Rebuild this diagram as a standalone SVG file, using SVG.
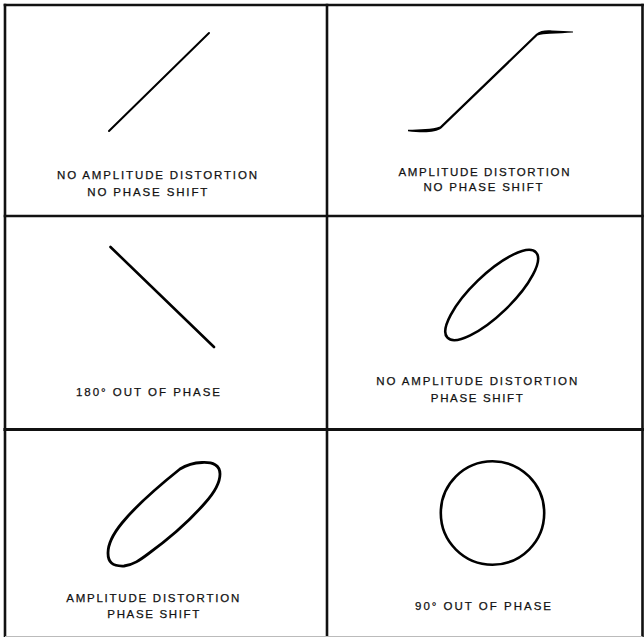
<svg xmlns="http://www.w3.org/2000/svg" width="644" height="637" viewBox="0 0 644 637">
<style>
.frame{stroke:#111;stroke-width:2.6;fill:none;stroke-linecap:square}
.trace{stroke:#000;fill:none;stroke-linecap:round;stroke-linejoin:round}
.lbl{font-family:"Liberation Sans",Arial,Helvetica,sans-serif;font-size:11.5px;fill:#111;stroke:#111;stroke-width:0.25;text-anchor:middle}
</style>
<rect width="644" height="637" fill="#fff"/>
<g id="grid">
<line class="frame" x1="5" y1="5" x2="642.5" y2="5"/>
<line class="frame" x1="5" y1="5" x2="5" y2="637"/>
<line class="frame" x1="642.5" y1="5" x2="642.5" y2="637"/>
<line class="frame" x1="327" y1="5" x2="327" y2="637"/>
<line class="frame" x1="5" y1="216" x2="642.5" y2="216"/>
<line class="frame" x1="5" y1="429.5" x2="642.5" y2="429.5" style="stroke-width:3.2"/>
<line x1="5" y1="636.5" x2="642.5" y2="636.5" stroke="#bbb" stroke-width="1"/>
</g>
<g id="connectors"></g>
<g id="cell1">
<line class="trace" x1="109" y1="131" x2="209" y2="33" stroke-width="2"/>
<text class="lbl" x="157" y="179" textLength="200" lengthAdjust="spacing">NO AMPLITUDE DISTORTION</text>
<text class="lbl" x="147.3" y="196" textLength="120" lengthAdjust="spacing">NO PHASE SHIFT</text>
</g>
<g id="cell2">
<path fill="#000" d="M408,129.8 C420,129.3 432,129.5 440,126.5 L536,34 C540,30.5 546,30 552,30.5 C560,31 567,31.3 573,31.5 L573,32.6 C566,33 558,33.5 550,33.8 C545,34 541,34.5 537.6,35.5 L441.5,128.3 C436,133 422,132.8 408,131.3 Z"/>
<text class="lbl" x="484" y="176" textLength="171" lengthAdjust="spacing">AMPLITUDE DISTORTION</text>
<text class="lbl" x="483" y="191" textLength="119" lengthAdjust="spacing">NO PHASE SHIFT</text>
</g>
<g id="cell3">
<line class="trace" x1="110.5" y1="247" x2="214" y2="347" stroke-width="2.6"/>
<text class="lbl" x="148" y="395.7" textLength="144" lengthAdjust="spacing">180° OUT OF PHASE</text>
</g>
<g id="cell4">
<ellipse class="trace" cx="491.7" cy="295" rx="61.5" ry="20" transform="rotate(-44 491.7 295)" stroke-width="2.6"/>
<text class="lbl" x="476.7" y="385" textLength="201" lengthAdjust="spacing">NO AMPLITUDE DISTORTION</text>
<text class="lbl" x="476.8" y="401.5" textLength="92" lengthAdjust="spacing">PHASE SHIFT</text>
</g>
<g id="cell5">
<path class="trace" stroke-width="2.8" d="M202,462.5 C213,462 220,465 220,474 C220,484 214,493 205,503 C192,518 170,538 148,554 C140,560 133,565 124,566 C112,566.5 108,562 108,553 C108,543 113,534 122,523 C135,507 160,485 180,469 C188,464 194,462.8 202,462.5 Z"/>
<text class="lbl" x="152.7" y="602.3" textLength="173" lengthAdjust="spacing">AMPLITUDE DISTORTION</text>
<text class="lbl" x="153.3" y="618.3" textLength="92" lengthAdjust="spacing">PHASE SHIFT</text>
</g>
<g id="cell6">
<circle class="trace" cx="492.5" cy="513" r="51.7" stroke-width="2.6"/>
<text class="lbl" x="483" y="610" textLength="136" lengthAdjust="spacing">90° OUT OF PHASE</text>
</g>
</svg>
